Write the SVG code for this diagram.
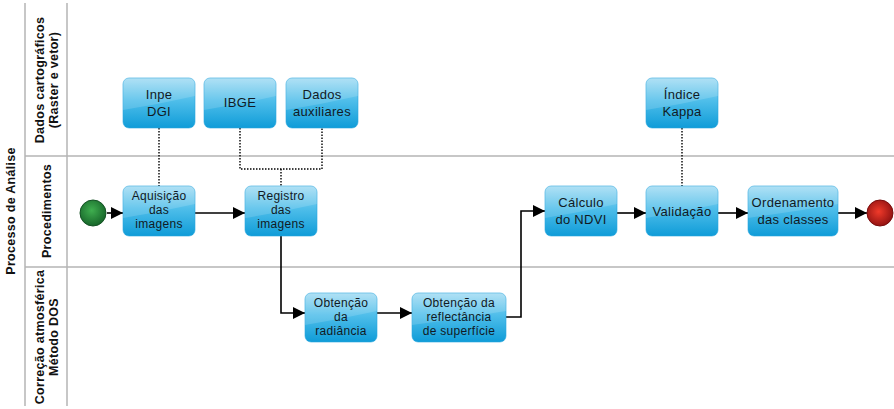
<svg xmlns="http://www.w3.org/2000/svg" width="894" height="409" viewBox="0 0 894 409">
<defs>
<linearGradient id="box" x1="0" y1="0" x2="0" y2="1">
<stop offset="0" stop-color="#a3dcf3"/>
<stop offset="0.45" stop-color="#4fbeea"/>
<stop offset="1" stop-color="#0f9cd8"/>
</linearGradient>
<radialGradient id="green" cx="0.45" cy="0.4" r="0.6">
<stop offset="0" stop-color="#3fae4f"/>
<stop offset="1" stop-color="#17662a"/>
</radialGradient>
<radialGradient id="red" cx="0.45" cy="0.45" r="0.6">
<stop offset="0" stop-color="#f03a2a"/>
<stop offset="1" stop-color="#8c1010"/>
</radialGradient>
<marker id="arr" markerWidth="12" markerHeight="12" refX="12" refY="6" orient="auto" markerUnits="userSpaceOnUse">
<path d="M0,0 L12,6 L0,12 Z" fill="#000"/>
</marker>
</defs>
<style>
.lane{stroke:#b4b4b4;stroke-width:1.5;fill:none}
.lbl{font-family:"Liberation Sans",Arial,sans-serif;font-size:12.5px;font-weight:bold;fill:#111;text-anchor:middle;letter-spacing:0.3px}
.box{fill:url(#box);stroke:#2aa6de;stroke-width:0.6}
.gloss{fill:#ffffff;opacity:0.15}
.t{font-family:"Liberation Sans",Arial,sans-serif;font-size:13px;fill:#111a24;text-anchor:middle;letter-spacing:0.3px}
.t3{font-family:"Liberation Sans",Arial,sans-serif;font-size:12px;fill:#111a24;text-anchor:middle;letter-spacing:0.3px}
.flow{stroke:#000;stroke-width:1.6;fill:none}
.dot{stroke:#000;stroke-width:1.4;fill:none;stroke-dasharray:1.5 1.5}
</style>
<g id="lanes">
<line class="lane" x1="25" y1="3" x2="25" y2="406"/>
<line class="lane" x1="67" y1="3" x2="67" y2="406"/>
<line class="lane" x1="25" y1="156" x2="894" y2="156"/>
<line class="lane" x1="25" y1="267" x2="894" y2="267"/>
<text class="lbl" transform="translate(15,211) rotate(-90)">Processo de Análise</text>
<text class="lbl" transform="translate(44,80) rotate(-90)">Dados cartográficos</text>
<text class="lbl" transform="translate(58,80) rotate(-90)">(Raster e vetor)</text>
<text class="lbl" transform="translate(51,211) rotate(-90)">Procedimentos</text>
<text class="lbl" transform="translate(44,337) rotate(-90)">Correção atmosférica</text>
<text class="lbl" transform="translate(58,337) rotate(-90)">Método DOS</text>
</g>
<g id="connectors">
<path class="dot" d="M159,128 V186"/>
<path class="dot" d="M240,128 V169 H322 V128"/>
<path class="dot" d="M281,169 V186"/>
<path class="dot" d="M682,128 V186"/>
<path class="flow" d="M107,213 H123" marker-end="url(#arr)"/>
<path class="flow" d="M195,213 H245" marker-end="url(#arr)"/>
<path class="flow" d="M281,236 V313 H305" marker-end="url(#arr)"/>
<path class="flow" d="M377,313 H412" marker-end="url(#arr)"/>
<path class="flow" d="M506,317 H521 V211 H545" marker-end="url(#arr)"/>
<path class="flow" d="M617,213 H646" marker-end="url(#arr)"/>
<path class="flow" d="M718,213 H748" marker-end="url(#arr)"/>
<path class="flow" d="M838,213 H867" marker-end="url(#arr)"/>
</g>
<g id="start"><circle cx="93" cy="213" r="13" fill="url(#green)" stroke="#145224" stroke-width="1"/></g>
<g id="end"><circle cx="880" cy="213" r="13" fill="url(#red)" stroke="#7a0c0c" stroke-width="1"/></g>
<g id="inpe">
<rect class="box" x="123" y="78" width="72" height="50" rx="6"/>
<path class="gloss" d="M129,78 H189 Q195,78 195,84 V96 Q160,104 123,110 V84 Q123,78 129,78 Z"/>
<text class="t" x="159" y="99">Inpe</text><text class="t" x="159" y="116">DGI</text>
</g>
<g id="ibge">
<rect class="box" x="204" y="78" width="72" height="50" rx="6"/>
<path class="gloss" d="M210,78 H270 Q276,78 276,84 V96 Q241,104 204,110 V84 Q204,78 210,78 Z"/>
<text class="t" x="240" y="107">IBGE</text>
</g>
<g id="dados">
<rect class="box" x="286" y="78" width="72" height="50" rx="6"/>
<path class="gloss" d="M292,78 H352 Q358,78 358,84 V96 Q323,104 286,110 V84 Q286,78 292,78 Z"/>
<text class="t" x="322" y="99">Dados</text><text class="t" x="322" y="116">auxiliares</text>
</g>
<g id="kappa">
<rect class="box" x="646" y="78" width="72" height="50" rx="6"/>
<path class="gloss" d="M652,78 H712 Q718,78 718,84 V96 Q683,104 646,110 V84 Q646,78 652,78 Z"/>
<text class="t" x="682" y="99">Índice</text><text class="t" x="682" y="116">Kappa</text>
</g>
<g id="aquisicao">
<rect class="box" x="123" y="186" width="72" height="50" rx="6"/>
<path class="gloss" d="M129,186 H189 Q195,186 195,192 V204 Q160,212 123,218 V192 Q123,186 129,186 Z"/>
<text class="t3" x="159" y="199.5">Aquisição</text><text class="t3" x="159" y="213.5">das</text><text class="t3" x="159" y="227.5">imagens</text>
</g>
<g id="registro">
<rect class="box" x="245" y="186" width="72" height="50" rx="6"/>
<path class="gloss" d="M251,186 H311 Q317,186 317,192 V204 Q282,212 245,218 V192 Q245,186 251,186 Z"/>
<text class="t3" x="281" y="199.5">Registro</text><text class="t3" x="281" y="213.5">das</text><text class="t3" x="281" y="227.5">imagens</text>
</g>
<g id="calculo">
<rect class="box" x="545" y="186" width="72" height="50" rx="6"/>
<path class="gloss" d="M551,186 H611 Q617,186 617,192 V204 Q582,212 545,218 V192 Q545,186 551,186 Z"/>
<text class="t" x="581" y="207">Cálculo</text><text class="t" x="581" y="224">do NDVI</text>
</g>
<g id="validacao">
<rect class="box" x="646" y="186" width="72" height="50" rx="6"/>
<path class="gloss" d="M652,186 H712 Q718,186 718,192 V204 Q683,212 646,218 V192 Q646,186 652,186 Z"/>
<text class="t" x="682" y="216">Validação</text>
</g>
<g id="ordenamento">
<rect class="box" x="748" y="186" width="90" height="50" rx="6"/>
<path class="gloss" d="M754,186 H832 Q838,186 838,192 V204 Q793,212 748,218 V192 Q748,186 754,186 Z"/>
<text class="t" x="793" y="207">Ordenamento</text><text class="t" x="793" y="224">das classes</text>
</g>
<g id="radiancia">
<rect class="box" x="305" y="293" width="72" height="49" rx="6"/>
<path class="gloss" d="M311,293 H371 Q377,293 377,299 V311 Q341,319 305,325 V299 Q305,293 311,293 Z"/>
<text class="t3" x="341" y="306.5">Obtenção</text><text class="t3" x="341" y="320.5">da</text><text class="t3" x="341" y="334.5">radiância</text>
</g>
<g id="reflectancia">
<rect class="box" x="412" y="293" width="94" height="49" rx="6"/>
<path class="gloss" d="M418,293 H500 Q506,293 506,299 V311 Q459,319 412,325 V299 Q412,293 418,293 Z"/>
<text class="t3" x="459" y="306.5">Obtenção da</text><text class="t3" x="459" y="320.5">reflectância</text><text class="t3" x="459" y="334.5">de superfície</text>
</g>
</svg>
